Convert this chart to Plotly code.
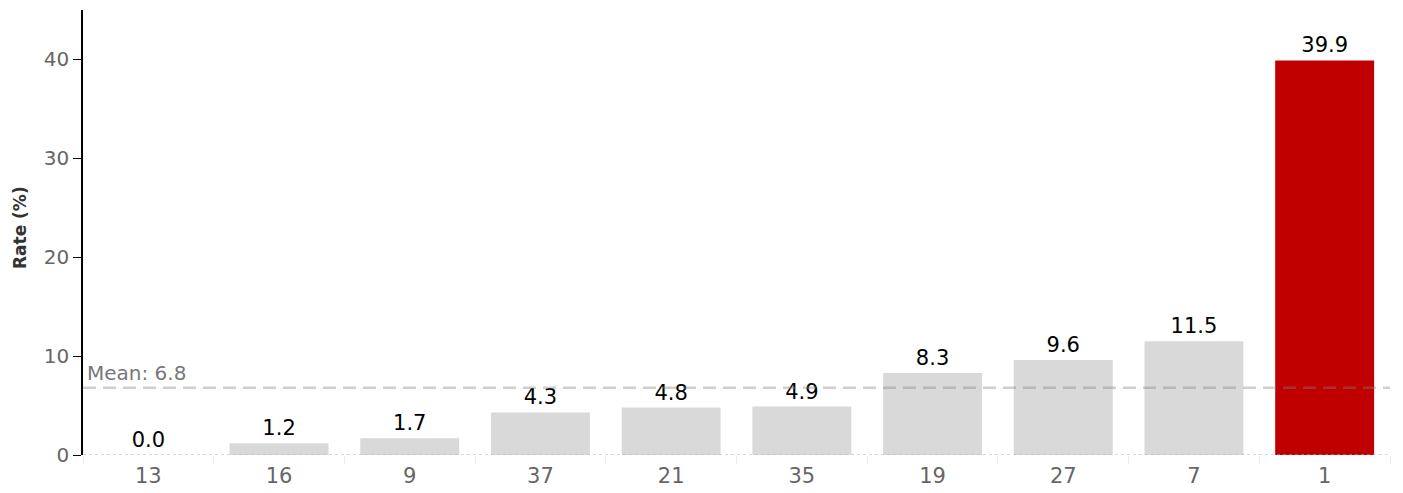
import plotly.graph_objects as go

categories = ["13", "16", "9", "37", "21", "35", "19", "27", "7", "1"]
rates = [0.0, 1.2, 1.7, 4.3, 4.8, 4.9, 8.3, 9.6, 11.5, 39.9]
highlight = "1"
mean_rate = 6.8
y_ticks = [0, 10, 20, 30, 40]

FONT = "DejaVu Sans"
colors = ["#c00000" if c == highlight else "#d9d9d9" for c in categories]
labels = [f"{v:.1f}" for v in rates]

fig = go.Figure()
fig.add_trace(go.Bar(
    x=categories, y=rates, marker=dict(color=colors, line=dict(width=0)),
    width=0.757, text=labels, textposition="outside", cliponaxis=False,
    constraintext="none",
    textfont=dict(color="#000000", size=21, family=FONT),
))

fig.add_shape(type="line", xref="paper", x0=0, x1=1, yref="y", y0=0, y1=0,
              line=dict(color="#b0b0b0", width=1, dash="dot"), layer="above")
fig.add_shape(type="line", xref="paper", x0=0, x1=1, yref="y", y0=mean_rate, y1=mean_rate,
              line=dict(color="rgba(128,128,128,0.38)", width=2.5, dash="13px,7px"), layer="above")
fig.add_annotation(xref="paper", x=0, yref="y", y=mean_rate, text=f"Mean: {mean_rate}",
                   showarrow=False, xanchor="left", yanchor="bottom", xshift=2, yshift=1,
                   font=dict(color="#777777", size=20, family=FONT))
fig.add_annotation(xref="paper", x=0, yref="paper", y=0.51, text="<b>Rate (%)</b>",
                   showarrow=False, textangle=-90, xanchor="center", yanchor="middle",
                   xshift=-63, font=dict(color="#333333", size=17, family=FONT))

fig.update_layout(
    width=1395, height=485,
    margin=dict(l=75, r=13, t=2, b=38),
    plot_bgcolor="white", paper_bgcolor="white",
    showlegend=False,
    font=dict(family=FONT),
    xaxis=dict(type="category", showline=False, showgrid=False, ticks="outside",
               tickson="boundaries", ticklen=8, tickcolor="#ebebeb",
               tickfont=dict(color="#666666", size=21, family=FONT), zeroline=False,
               ticklabelstandoff=6, automargin=False),
    yaxis=dict(range=[0, 45], tickvals=y_ticks, showgrid=False, zeroline=False,
               showline=True, linecolor="#000000", linewidth=1.5, ticks="outside",
               ticklen=8, tickcolor="#000000",
               tickfont=dict(color="#666666", size=20, family=FONT),
               automargin=False),
)

fig.write_html("out.html")
